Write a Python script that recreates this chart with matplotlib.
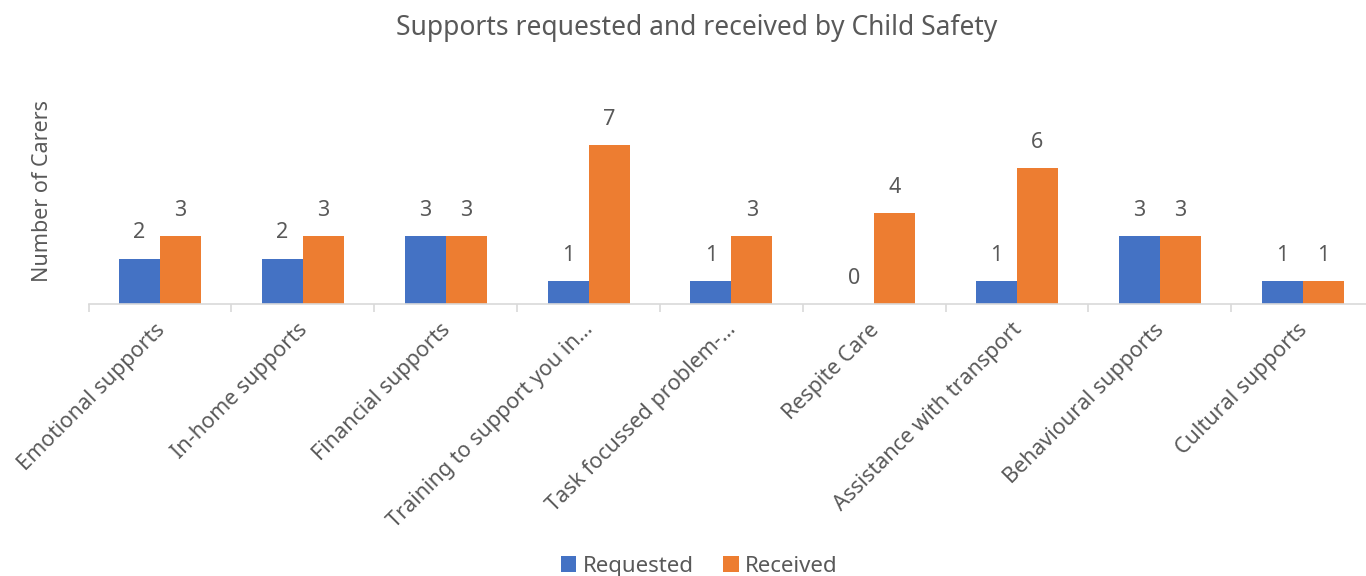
import matplotlib.pyplot as plt
import matplotlib.transforms as mtransforms
import numpy as np

plt.rcParams["font.family"] = ["Noto Sans", "DejaVu Sans"]

# ---- data ----
categories = [
    "Emotional supports",
    "In-home supports",
    "Financial supports",
    "Training to support you in\u2026",
    "Task focussed problem-\u2026",
    "Respite Care",
    "Assistance with transport",
    "Behavioural supports",
    "Cultural supports",
]
requested = [2, 2, 3, 1, 1, 0, 1, 3, 1]
received = [3, 3, 3, 7, 3, 4, 6, 3, 1]

BLUE = "#4472C4"
ORANGE = "#ED7D31"
TEXT = "#595959"
GRID = "#D9D9D9"

fig = plt.figure(figsize=(13.66, 5.76), dpi=100)
ax = fig.add_axes([0.0649, 0.4722, 0.941, 0.3153])

x = np.arange(len(categories))
w = 0.287
b1 = ax.bar(x - w / 2, requested, w, color=BLUE, label="Requested")
b2 = ax.bar(x + w / 2, received, w, color=ORANGE, label="Received")

for bars, vals in ((b1, requested), (b2, received)):
    for rect, v in zip(bars, vals):
        ax.annotate(str(v), (rect.get_x() + rect.get_width() / 2, v),
                    xytext=(0, 11), textcoords="offset points",
                    ha="center", va="bottom", fontsize=15.5, color=TEXT,
                    annotation_clip=False)

ax.set_xlim(-0.5, len(categories) - 0.5)
ax.set_ylim(0, 8)

for s in ("top", "right", "left"):
    ax.spines[s].set_visible(False)
ax.spines["bottom"].set_color(GRID)
ax.spines["bottom"].set_linewidth(1.2)
ax.set_yticks([])

# category boundary ticks
ax.set_xticks(np.arange(len(categories) + 1) - 0.5, minor=True)
ax.tick_params(axis="x", which="minor", length=6, color=GRID, width=1.2)
ax.set_xticks(x)
ax.set_xticklabels(categories, rotation=45, ha="right", va="top",
                   rotation_mode="default", fontsize=15.5, color=TEXT)
ax.tick_params(axis="x", which="major", length=0, pad=11)

# nudge the rotated labels a bit to the right, like the original
shift = mtransforms.ScaledTranslation(0.09, 0, fig.dpi_scale_trans)
for lbl in ax.get_xticklabels():
    lbl.set_transform(lbl.get_transform() + shift)

ax.set_ylabel("Number of Carers", fontsize=15.5, color=TEXT)
ax.yaxis.set_label_coords(-0.0277, 0.62)

fig.text(0.51, 0.952, "Supports requested and received by Child Safety",
         ha="center", va="center", fontsize=19, color=TEXT)

fig.legend(handles=[b1, b2], loc="center", bbox_to_anchor=(0.512, 0.017),
           ncol=2, frameon=False, fontsize=16, labelcolor=TEXT,
           handlelength=0.7, handleheight=0.7, handletextpad=0.3,
           columnspacing=1.3)

fig.savefig("out.png", dpi=100)
